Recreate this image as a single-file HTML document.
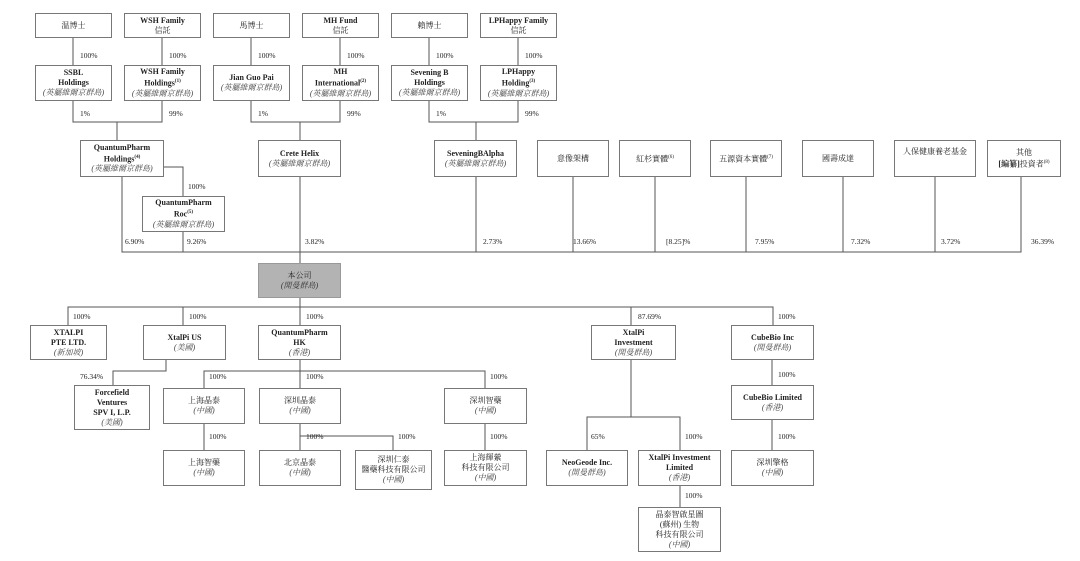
<!DOCTYPE html>
<html><head><meta charset="utf-8"><style>
body{margin:0;background:#fff;width:1080px;height:561px;position:relative;overflow:hidden;font-family:"Liberation Serif","Noto Serif CJK SC",serif;color:#222}
.b{position:absolute;border:1px solid #777;background:#fff;box-sizing:border-box;display:flex;flex-direction:column;align-items:center;justify-content:center;text-align:center;font-size:8px;line-height:10px}
.b b{font-weight:bold}
.b i{font-style:italic;color:#444}
.p{position:absolute;font-size:7.5px;color:#222}
svg{position:absolute;left:0;top:0}
sup{font-size:5px}
</style></head><body>
<svg width="1080" height="561" stroke="#555" stroke-width="1" fill="none">
<path d="M73 38V65M162 38V65M251 38V65M340 38V65M429 38V65M518 38V65"/>
<path d="M73 101V122H162V101M117 122V140"/>
<path d="M251 101V122H340V101M300 122V140"/>
<path d="M429 101V122H518V101M476 122V140"/>
<path d="M164 167H183V196"/>
<path d="M122 177V252H1021V177M183 232V252M300 177V263M476 177V252M573 177V252M655 177V252M746 177V252M843 177V252M935 177V252"/>
<path d="M68 325V307H773V325M183 307V325M300 298V325M631 307V325"/>
<path d="M166 360V371H113V385"/>
<path d="M300 360V388M204 388V371H485V388M204 424V450M300 424V450M300 436H393V450M485 424V450"/>
<path d="M631 360V417M587 450V417H680V450M680 486V507"/>
<path d="M772 360V385M772 420V450"/>
</svg>

<div class="b" style="left:35px;top:13px;width:77px;height:25px">温博士</div>
<div class="b" style="left:124px;top:13px;width:77px;height:25px"><b>WSH Family</b>信託</div>
<div class="b" style="left:213px;top:13px;width:77px;height:25px">馬博士</div>
<div class="b" style="left:302px;top:13px;width:77px;height:25px"><b>MH Fund</b>信託</div>
<div class="b" style="left:391px;top:13px;width:77px;height:25px">賴博士</div>
<div class="b" style="left:480px;top:13px;width:77px;height:25px"><b>LPHappy Family</b>信託</div>

<div class="p" style="left:80px;top:51px">100%</div><div class="p" style="left:169px;top:51px">100%</div>
<div class="p" style="left:258px;top:51px">100%</div><div class="p" style="left:347px;top:51px">100%</div>
<div class="p" style="left:436px;top:51px">100%</div><div class="p" style="left:525px;top:51px">100%</div>

<div class="b" style="left:35px;top:65px;width:77px;height:36px"><b>SSBL</b><b>Holdings</b><i>(英屬維爾京群島)</i></div>
<div class="b" style="left:124px;top:65px;width:77px;height:36px"><b>WSH Family</b><b>Holdings<sup>(1)</sup></b><i>(英屬維爾京群島)</i></div>
<div class="b" style="left:213px;top:65px;width:77px;height:36px"><b>Jian Guo Pai</b><i>(英屬維爾京群島)</i></div>
<div class="b" style="left:302px;top:65px;width:77px;height:36px"><b>MH</b><b>International<sup>(2)</sup></b><i>(英屬維爾京群島)</i></div>
<div class="b" style="left:391px;top:65px;width:77px;height:36px"><b>Sevening B</b><b>Holdings</b><i>(英屬維爾京群島)</i></div>
<div class="b" style="left:480px;top:65px;width:77px;height:36px"><b>LPHappy</b><b>Holding<sup>(3)</sup></b><i>(英屬維爾京群島)</i></div>

<div class="p" style="left:80px;top:109px">1%</div><div class="p" style="left:169px;top:109px">99%</div>
<div class="p" style="left:258px;top:109px">1%</div><div class="p" style="left:347px;top:109px">99%</div>
<div class="p" style="left:436px;top:109px">1%</div><div class="p" style="left:525px;top:109px">99%</div>

<div class="b" style="left:80px;top:140px;width:84px;height:37px"><b>QuantumPharm</b><b>Holdings<sup>(4)</sup></b><i>(英屬維爾京群島)</i></div>
<div class="b" style="left:258px;top:140px;width:83px;height:37px"><b>Crete Helix</b><i>(英屬維爾京群島)</i></div>
<div class="b" style="left:434px;top:140px;width:83px;height:37px"><b>SeveningBAlpha</b><i>(英屬維爾京群島)</i></div>
<div class="b" style="left:537px;top:140px;width:72px;height:37px">意像架構</div>
<div class="b" style="left:619px;top:140px;width:72px;height:37px"><span>紅杉實體<sup>(6)</sup></span></div>
<div class="b" style="left:710px;top:140px;width:72px;height:37px"><span>五源資本實體<sup>(7)</sup></span></div>
<div class="b" style="left:802px;top:140px;width:72px;height:37px">國壽成達</div>
<div class="b" style="left:894px;top:140px;width:82px;height:37px;justify-content:flex-start;padding-top:6px">人保健康養老基金</div>
<div class="b" style="left:987px;top:140px;width:74px;height:37px">其他<span><b>[編纂]</b>投資者<sup>(8)</sup></span></div>

<div class="p" style="left:188px;top:182px">100%</div>
<div class="b" style="left:142px;top:196px;width:83px;height:36px"><b>QuantumPharm</b><b>Roc<sup>(5)</sup></b><i>(英屬維爾京群島)</i></div>

<div class="p" style="left:125px;top:237px">6.90%</div><div class="p" style="left:187px;top:237px">9.26%</div>
<div class="p" style="left:305px;top:237px">3.82%</div><div class="p" style="left:483px;top:237px">2.73%</div>
<div class="p" style="left:573px;top:237px">13.66%</div><div class="p" style="left:666px;top:237px">[8.25]%</div>
<div class="p" style="left:755px;top:237px">7.95%</div><div class="p" style="left:851px;top:237px">7.32%</div>
<div class="p" style="left:941px;top:237px">3.72%</div><div class="p" style="left:1031px;top:237px">36.39%</div>

<div class="b" style="left:258px;top:263px;width:83px;height:35px;background:#b3b3b3;border-color:#999">本公司<i style="color:#333">(開曼群島)</i></div>

<div class="p" style="left:73px;top:312px">100%</div><div class="p" style="left:189px;top:312px">100%</div>
<div class="p" style="left:306px;top:312px">100%</div><div class="p" style="left:638px;top:312px">87.69%</div>
<div class="p" style="left:778px;top:312px">100%</div>

<div class="b" style="left:30px;top:325px;width:77px;height:35px"><b>XTALPI</b><b>PTE LTD.</b><i>(新加坡)</i></div>
<div class="b" style="left:143px;top:325px;width:83px;height:35px"><b>XtalPi US</b><i>(美國)</i></div>
<div class="b" style="left:258px;top:325px;width:83px;height:35px"><b>QuantumPharm</b><b>HK</b><i>(香港)</i></div>
<div class="b" style="left:591px;top:325px;width:85px;height:35px"><b>XtalPi</b><b>Investment</b><i>(開曼群島)</i></div>
<div class="b" style="left:731px;top:325px;width:83px;height:35px"><b>CubeBio Inc</b><i>(開曼群島)</i></div>

<div class="p" style="left:80px;top:372px">76.34%</div>
<div class="p" style="left:209px;top:372px">100%</div><div class="p" style="left:306px;top:372px">100%</div>
<div class="p" style="left:490px;top:372px">100%</div><div class="p" style="left:778px;top:370px">100%</div>

<div class="b" style="left:74px;top:385px;width:76px;height:45px"><b>Forcefield</b><b>Ventures</b><b>SPV I, L.P.</b><i>(美國)</i></div>
<div class="b" style="left:163px;top:388px;width:82px;height:36px">上海晶泰<i>(中國)</i></div>
<div class="b" style="left:259px;top:388px;width:82px;height:36px">深圳晶泰<i>(中國)</i></div>
<div class="b" style="left:444px;top:388px;width:83px;height:36px">深圳智藥<i>(中國)</i></div>
<div class="b" style="left:731px;top:385px;width:83px;height:35px"><b>CubeBio Limited</b><i>(香港)</i></div>

<div class="p" style="left:209px;top:432px">100%</div><div class="p" style="left:306px;top:432px">100%</div>
<div class="p" style="left:398px;top:432px">100%</div><div class="p" style="left:490px;top:432px">100%</div>
<div class="p" style="left:591px;top:432px">65%</div><div class="p" style="left:685px;top:432px">100%</div>
<div class="p" style="left:778px;top:432px">100%</div>

<div class="b" style="left:163px;top:450px;width:82px;height:36px">上海智藥<i>(中國)</i></div>
<div class="b" style="left:259px;top:450px;width:82px;height:36px">北京晶泰<i>(中國)</i></div>
<div class="b" style="left:355px;top:450px;width:77px;height:40px">深圳仁泰<span>醫藥科技有限公司</span><i>(中國)</i></div>
<div class="b" style="left:444px;top:450px;width:83px;height:36px">上海輝縈<span>科技有限公司</span><i>(中國)</i></div>
<div class="b" style="left:546px;top:450px;width:82px;height:36px"><b>NeoGeode Inc.</b><i>(開曼群島)</i></div>
<div class="b" style="left:638px;top:450px;width:83px;height:36px"><b>XtalPi Investment</b><b>Limited</b><i>(香港)</i></div>
<div class="b" style="left:731px;top:450px;width:83px;height:36px">深圳擎格<i>(中國)</i></div>

<div class="p" style="left:685px;top:491px">100%</div>
<div class="b" style="left:638px;top:507px;width:83px;height:45px">晶泰智啟星圖<span>(蘇州) 生物</span><span>科技有限公司</span><i>(中國)</i></div>
</body></html>
